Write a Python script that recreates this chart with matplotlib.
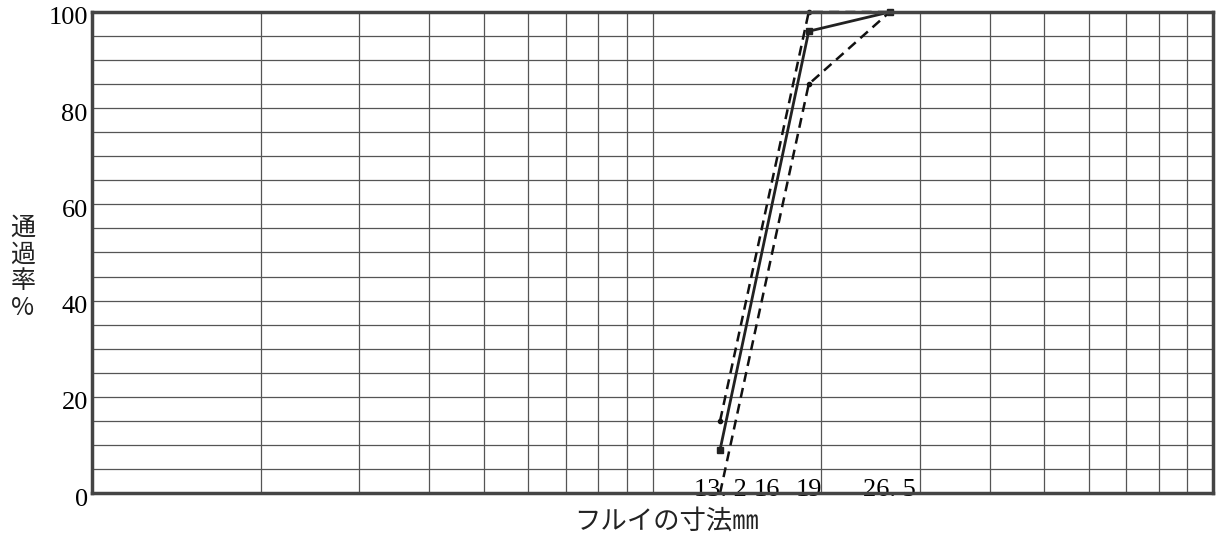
import numpy as np
import matplotlib
matplotlib.use("Agg")
import matplotlib.pyplot as plt
import matplotlib.ticker as mticker
import matplotlib.transforms as mtransforms

# sieve sizes (mm) and passing percentages
sieve_sizes = [13.2, 19, 26.5]
measured = [9, 96, 100]
upper_limit = [15, 100, 100]
lower_limit = [0, 85, 100]

sieve_labels = ["13. 2", "16", "19", "26. 5"]
sieve_ticks = [13.2, 16, 19, 26.5]
y_ticks = [0, 20, 40, 60, 80, 100]

serif = ["Liberation Serif", "DejaVu Serif"]
cjk = ["Noto Sans CJK JP", "DejaVu Sans"]

fig = plt.figure(figsize=(12.2, 5.37), dpi=100)
ax = fig.add_axes([92 / 1220, 1 - 493 / 537, 1121 / 1220, 481 / 537])

ax.set_xscale("log")
ax.set_xlim(1, 100)
ax.set_ylim(0, 100)

# grid: log minor lines on x, every 5 % on y
grid_x = [v * d for d in (1, 10) for v in range(1, 10)][1:] + [100]
ax.set_xticks(grid_x, minor=True)
ax.xaxis.set_minor_formatter(mticker.NullFormatter())
ax.set_xticks(sieve_ticks)
ax.set_xticklabels(sieve_labels, family=serif, fontsize=19)
ax.set_yticks(y_ticks)
ax.set_yticks(np.arange(0, 101, 5), minor=True)
ax.set_yticklabels([str(v) for v in y_ticks], family=serif, fontsize=19)

ax.tick_params(axis="both", which="both", length=0)
ax.tick_params(axis="x", which="major", pad=-10)
ax.tick_params(axis="y", which="major", pad=3)
ax.xaxis.grid(True, which="minor", color="#555555", lw=0.9)
ax.xaxis.grid(False, which="major")
ax.yaxis.grid(True, which="both", color="#555555", lw=0.9)
ax.set_axisbelow(True)

# y labels sit a little below their lines
offset = mtransforms.ScaledTranslation(0, -4 / 100, fig.dpi_scale_trans)
for lbl in ax.get_yticklabels():
    lbl.set_transform(lbl.get_transform() + offset)

for s in ax.spines.values():
    s.set_color("#444444")
    s.set_linewidth(2.5)

ax.plot(sieve_sizes, upper_limit, ls=(0, (4, 2.5)), color="#111111", lw=1.8,
        marker="o", ms=3, markevery=[0, 1], clip_on=False)
ax.plot(sieve_sizes, lower_limit, ls=(0, (4, 2.5)), color="#111111", lw=1.8,
        marker="o", ms=3, markevery=[1], clip_on=False)
ax.plot(sieve_sizes, measured, ls="-", color="#222222", lw=2,
        marker="s", ms=5, clip_on=False)

fig.text(666 / 1220, 1 - 521 / 537, "フルイの寸法㎜", family=cjk, fontsize=19,
         ha="center", va="center", color="#222222")
fig.text(23 / 1220, 1 - 268 / 537, "通\n過\n率\n%", family=cjk, fontsize=18,
         ha="center", va="center", linespacing=1.05, color="#222222")

fig.savefig("out.png", dpi=100)
